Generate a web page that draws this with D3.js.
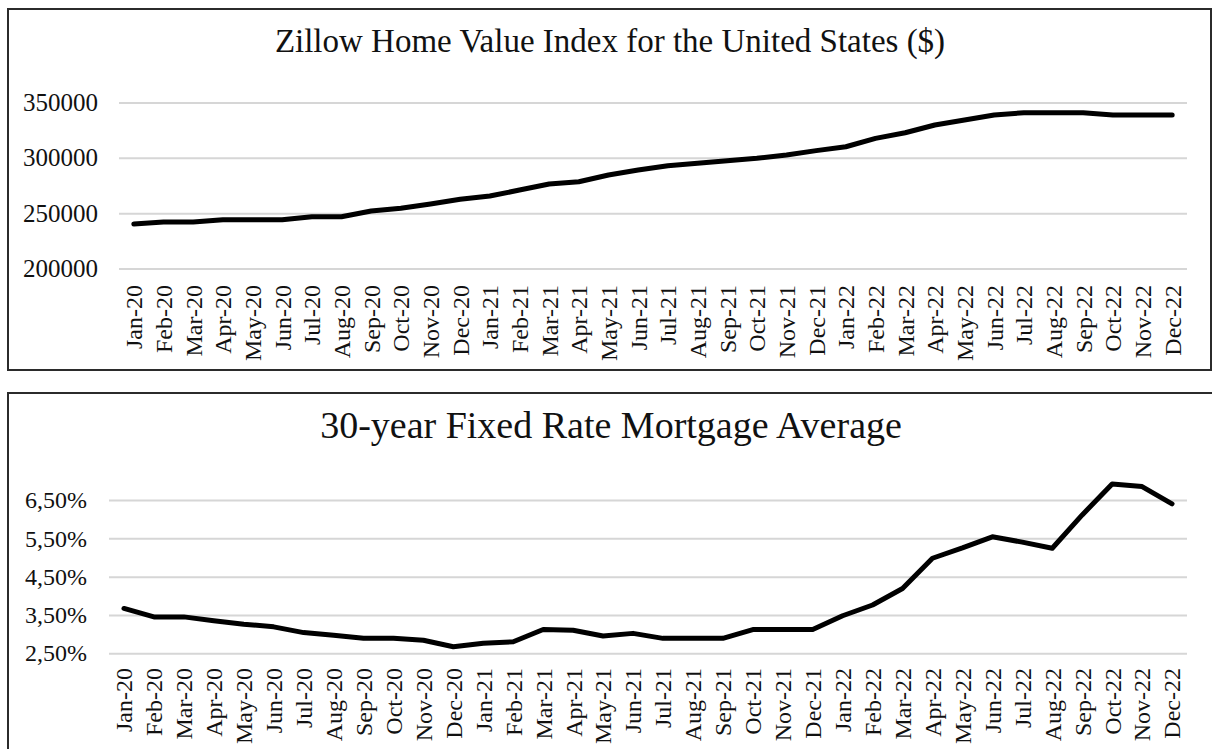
<!DOCTYPE html>
<html>
<head>
<meta charset="utf-8">
<script src="https://cdn.jsdelivr.net/npm/d3@7"></script>
<style>
  body { margin: 0; background: #fff; }
  text { font-family: "Liberation Serif", "Times New Roman", serif; fill: #111; }
</style>
</head>
<body>
<div id="chart"></div>
<script>
// months shared by both charts
const months = ["Jan-20","Feb-20","Mar-20","Apr-20","May-20","Jun-20","Jul-20","Aug-20","Sep-20","Oct-20","Nov-20","Dec-20",
  "Jan-21","Feb-21","Mar-21","Apr-21","May-21","Jun-21","Jul-21","Aug-21","Sep-21","Oct-21","Nov-21","Dec-21",
  "Jan-22","Feb-22","Mar-22","Apr-22","May-22","Jun-22","Jul-22","Aug-22","Sep-22","Oct-22","Nov-22","Dec-22"];

// Zillow home value index ($)
const homeValues = [240200,242000,242000,244000,244000,244000,246800,246800,252000,254500,258300,262500,
  265500,270900,276300,278400,284500,289000,292900,295000,297400,299600,302600,306500,
  310000,317600,322700,329700,334200,338700,340800,340800,340800,338700,338700,338700];
const homeTicks = [200000, 250000, 300000, 350000];

// 30-year fixed mortgage average (%)
const mortgageRates = [3.67,3.45,3.45,3.35,3.26,3.19,3.04,2.97,2.89,2.89,2.84,2.67,
  2.76,2.80,3.12,3.10,2.95,3.02,2.89,2.89,2.89,3.12,3.12,3.12,
  3.48,3.76,4.19,4.98,5.25,5.54,5.40,5.24,6.11,6.92,6.85,6.40];
const rateTicks = [2.5, 3.5, 4.5, 5.5, 6.5];
const rateTickLabels = ["2,50%", "3,50%", "4,50%", "5,50%", "6,50%"];

const W = 1212, H = 749;
const svg = d3.select("#chart").append("svg")
  .attr("width", W).attr("height", H);

function drawPanel(cfg) {
  // frame
  svg.append("rect")
    .attr("x", cfg.box[0]).attr("y", cfg.box[1])
    .attr("width", cfg.box[2]).attr("height", cfg.box[3])
    .attr("fill", "none").attr("stroke", "#2b2b2b").attr("stroke-width", 2);

  // title
  svg.append("text")
    .attr("x", cfg.titleX).attr("y", cfg.titleY)
    .attr("text-anchor", "middle")
    .style("font-size", cfg.titleSize + "px")
    .text(cfg.title);

  const x = d3.scaleBand().domain(months).range([cfg.left, cfg.right]).padding(0);
  const y = d3.scaleLinear().domain(cfg.domain).range([cfg.bottom, cfg.top]);

  // gridlines
  svg.append("g")
    .attr("transform", `translate(${cfg.left},0)`)
    .call(d3.axisLeft(y).tickValues(cfg.ticks).tickSize(-(cfg.right - cfg.left)).tickFormat(""))
    .call(g => g.select(".domain").remove())
    .selectAll("line").attr("stroke", "#d6d6d6").attr("stroke-width", 2);

  // y labels
  svg.append("g")
    .attr("transform", `translate(${cfg.left},0)`)
    .call(d3.axisLeft(y).tickValues(cfg.ticks).tickSize(0).tickPadding(cfg.yPad).tickFormat(cfg.fmt))
    .call(g => g.select(".domain").remove())
    .selectAll("text")
      .attr("fill", "#111")
      .style("font-size", cfg.ySize + "px")
      .style("font-family", "'Liberation Serif', serif");

  // x labels (rotated)
  svg.append("g")
    .attr("transform", `translate(0,${cfg.labelTop})`)
    .call(d3.axisBottom(x).tickSize(0).tickPadding(0))
    .call(g => g.select(".domain").remove())
    .selectAll("text")
      .attr("fill", "#111")
      .style("font-size", "24px")
      .style("font-family", "'Liberation Serif', serif")
      .attr("text-anchor", "end")
      .attr("y", 0).attr("x", 0)
      .attr("dy", "0.35em")
      .attr("transform", "rotate(-90)");

  // line
  const line = d3.line()
    .x((d, i) => x(months[i]) + x.bandwidth() / 2)
    .y(d => y(d));
  svg.append("path")
    .datum(cfg.values)
    .attr("d", line)
    .attr("fill", "none")
    .attr("stroke", "#000")
    .attr("stroke-width", 5)
    .attr("stroke-linejoin", "round")
    .attr("stroke-linecap", "round");
}

drawPanel({
  box: [8, 9, 1203, 361],
  title: "Zillow Home Value Index for the United States ($)",
  titleX: 610, titleY: 52, titleSize: 33,
  left: 119, right: 1187, top: 102.5, bottom: 268.5,
  domain: [200000, 350000], ticks: homeTicks,
  fmt: d => d, yPad: 21, ySize: 25,
  labelTop: 285,
  values: homeValues
});

drawPanel({
  box: [8, 393, 1210, 380],
  title: "30-year Fixed Rate Mortgage Average",
  titleX: 611, titleY: 438, titleSize: 38,
  left: 109, right: 1187, top: 500, bottom: 653.3,
  domain: [2.5, 6.5], ticks: rateTicks,
  fmt: d => rateTickLabels[rateTicks.indexOf(d)], yPad: 22, ySize: 24,
  labelTop: 668,
  values: mortgageRates
});
</script>
</body>
</html>
